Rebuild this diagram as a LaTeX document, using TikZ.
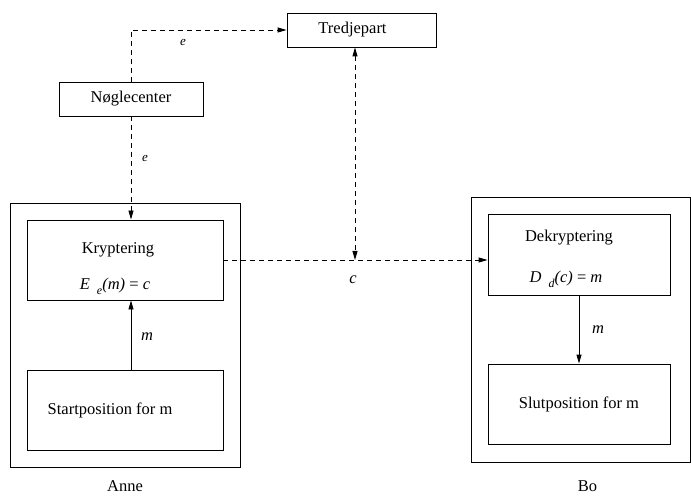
\documentclass[tikz,border=0pt]{standalone}
\usepackage{fontspec}
\setmainfont{Liberation Serif}
\usepackage{tikz}
\usetikzlibrary{positioning,calc,arrows.meta}

\begin{document}
\begin{tikzpicture}[x=1pt, y=-1pt, >={Triangle[length=9pt,width=5pt]},
    every node/.style={font=\fontsize{16.5}{20}\selectfont},
    boks/.style={draw, rectangle, line width=0.9pt, inner sep=0pt},
    strib/.style={line width=0.9pt, dash pattern=on 5pt off 4pt},
    fuld/.style={line width=0.9pt},
    lille/.style={font=\fontsize{13}{15}\selectfont\itshape}]
    \useasboundingbox (0,0) rectangle (691,497);

    % tredjepart og noeglecenter
    \node[boks, minimum width=149pt, minimum height=34pt] (tredje) at (361.5,30) {};
    \node (tredjenavn) at ($(tredje)+(-9,0)$) {Tredjepart};
    \node[boks, minimum width=144pt, minimum height=34pt] (noegle) at (131,99) {Nøglecenter};

    % Anne
    \node[boks, minimum width=230pt, minimum height=264pt] (anne) at (125,335) {};
    \node[boks, minimum width=196pt, minimum height=80pt] (krypt) at (125,260) {};
    \node[boks, minimum width=196pt, minimum height=80pt] (start) at (125,410) {};
    \node (kryptnavn) at ($(krypt.north)+(-7,30)$) {Kryptering};
    \node (kryptform) at ($(krypt.north)+(-10,67)$) {\textit{E}\hspace{7pt}\raisebox{-5pt}{\fontsize{12}{12}\selectfont\itshape e}\hspace{0pt}\textit{(m)} = \textit{c}};
    \node (startnavn) at ($(start)+(-15,0)$) {Startposition for m};
    \node (annenavn) at ($(anne.south)+(0,19)$) {Anne};

    % Bo
    \node[boks, minimum width=219pt, minimum height=265pt] (bo) at (580.5,329.5) {};
    \node[boks, minimum width=182pt, minimum height=81pt] (dekrypt) at (579,254.5) {};
    \node[boks, minimum width=182pt, minimum height=80pt] (slut) at (579,404) {};
    \node (dekryptnavn) at ($(dekrypt.north)+(-10,24)$) {Dekryptering};
    \node (dekryptform) at ($(dekrypt.north)+(-13,66)$) {\textit{D}\hspace{7pt}\raisebox{-5pt}{\fontsize{12}{12}\selectfont\itshape d}\hspace{0pt}\textit{(c)} = \textit{m}};
    \node (slutnavn) at (slut) {Slutposition for m};
    \node (bonavn) at ($(bo.south)+(7,24)$) {Bo};

    \coordinate (kryds) at (355,260);

    % forbindelser
    \draw[strib,->] (noegle.north) |- (tredje.west);
    \draw[strib,->] (noegle.south) -- (noegle.south |- krypt.north);
    \draw[strib,->] (krypt.east |- kryds) -- (dekrypt.west |- kryds);
    \draw[strib,<->] (tredje.south -| kryds) -- (kryds);
    \draw[fuld,->] (start.north -| noegle.south) -- (krypt.south -| noegle.south);
    \draw[fuld,->] (dekrypt.south) -- (slut.north);

    % etiketter
    \node[lille] (e1) at (183,43) {e};
    \node[lille] (e2) at (145,159) {e};
    \node[font=\fontsize{16.5}{20}\selectfont\itshape] (m1) at (147,337) {m};
    \node[font=\fontsize{16.5}{20}\selectfont\itshape] (c1) at (353,280) {c};
    \node[font=\fontsize{16.5}{20}\selectfont\itshape] (m2) at (598,330) {m};
\end{tikzpicture}
\end{document}
